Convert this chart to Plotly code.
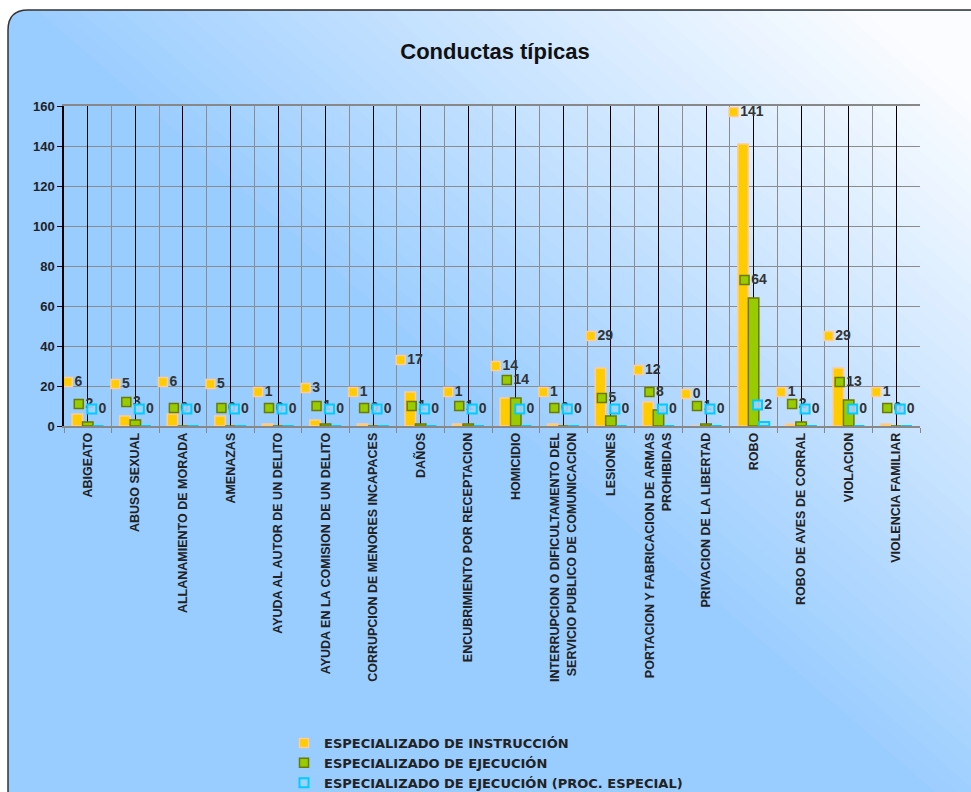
import plotly.graph_objects as go

categories = [
    "ABIGEATO",
    "ABUSO SEXUAL",
    "ALLANAMIENTO DE MORADA",
    "AMENAZAS",
    "AYUDA AL AUTOR DE UN DELITO",
    "AYUDA EN LA COMISION DE UN DELITO",
    "CORRUPCION DE MENORES INCAPACES",
    "DAÑOS",
    "ENCUBRIMIENTO POR RECEPTACION",
    "HOMICIDIO",
    "INTERRUPCION O DIFICULTAMENTO DEL<br>SERVICIO PUBLICO DE COMUNICACION",
    "LESIONES",
    "PORTACION Y FABRICACION DE ARMAS<br>PROHIBIDAS",
    "PRIVACION DE LA LIBERTAD",
    "ROBO",
    "ROBO DE AVES DE CORRAL",
    "VIOLACION",
    "VIOLENCIA FAMILIAR",
]
instruccion = [6, 5, 6, 5, 1, 3, 1, 17, 1, 14, 1, 29, 12, 0, 141, 1, 29, 1]
ejecucion = [2, 3, 0, 0, 0, 1, 0, 1, 1, 14, 0, 5, 8, 1, 64, 2, 13, 0]
proc_especial = [0, 0, 0, 0, 0, 0, 0, 0, 0, 0, 0, 0, 0, 0, 2, 0, 0, 0]
series_names = [
    "ESPECIALIZADO DE INSTRUCCIÓN",
    "ESPECIALIZADO DE EJECUCIÓN",
    "ESPECIALIZADO DE EJECUCIÓN (PROC. ESPECIAL)",
]
y_ticks = [0, 20, 40, 60, 80, 100, 120, 140, 160]
title_text = "Conductas típicas"

# ---------------- styling ----------------
W, H = 971, 792
L, R, T, B = 64, 51, 106, 366
PW, PH = W - L - R, H - T - B
NCAT = len(categories)
CW = PW / NCAT
FONT = "Liberation Sans, Arial, sans-serif"
WIDE = "DejaVu Sans, Verdana, sans-serif"

fills = ["#FFCC00", "#99CC00", "rgba(160,210,255,0.9)"]
lines = ["#FFCC99", "#6B7A00", "#00CCFF"]
lwidths = [1.5, 1.5, 2]
label_dx = [-20, -9, 4]        # label key offset from category centre (px)
label_dy = [16, 9, 8.5]        # label offset above value (axis units)


def px(x):
    return (x - L) / PW


def py(y):
    return (H - B - y) / PH


shapes = []
r = 20
x0, y0, x1, y1 = 8, 10, 1010, 810
frame_path = (
    f"M {px(x0)},{py(y1 - r)} L {px(x0)},{py(y0 + r)} "
    f"Q {px(x0)},{py(y0)} {px(x0 + r)},{py(y0)} "
    f"L {px(x1)},{py(y0)} L {px(x1)},{py(y1)} L {px(x0 + r)},{py(y1)} "
    f"Q {px(x0)},{py(y1)} {px(x0)},{py(y1 - r)} Z"
)
shapes.append(dict(type="path", xref="paper", yref="paper", path=frame_path,
                   fillcolor="#99CCFF", line=dict(width=0), layer="below"))

# diagonal gradient bands (background decoration)
c0 = (153, 204, 255)
c1 = (250, 252, 255)
n_b = 40
ta = 0.03
step = (1.0 - ta) / n_b
ytop, ybot = 11, 809
for i in range(n_b + 1):
    a = ta + i * step
    b = a + step + 0.004 if i < n_b else 3.0
    tm = min(1.0, a + step / 2)
    col = tuple(round(c0[k] + (c1[k] - c0[k]) * tm) for k in range(3))
    pts = [
        (850 * (a + ytop / 740), ytop),
        (850 * (b + ytop / 740), ytop),
        (850 * (b + ybot / 740), ybot),
        (850 * (a + ybot / 740), ybot),
    ]
    p = "M " + " L ".join(f"{px(xx)},{py(yy)}" for xx, yy in pts) + " Z"
    shapes.append(dict(type="path", xref="paper", yref="paper", path=p,
                       fillcolor=f"rgb{col}", line=dict(width=0), layer="below"))

shapes.append(dict(type="path", xref="paper", yref="paper", path=frame_path,
                   fillcolor="rgba(0,0,0,0)", line=dict(color="#333333", width=1.5),
                   layer="below"))

fig = go.Figure()
data = [instruccion, ejecucion, proc_especial]

# bars
for i, (name, vals) in enumerate(zip(series_names, data)):
    fig.add_trace(go.Bar(
        name=name, x=categories, y=vals, offsetgroup=str(i),
        marker=dict(color=fills[i], line=dict(color=lines[i], width=lwidths[i])),
        xaxis="x", yaxis="y", showlegend=False, hoverinfo="x+y",
    ))

# legend keys (hold the centre grid axis)
for i, name in enumerate(series_names):
    fig.add_trace(go.Scatter(
        name=name, x=categories, y=[None] * NCAT, mode="markers",
        marker=dict(symbol="square", size=9, color=fills[i],
                    line=dict(color=lines[i], width=lwidths[i])),
        xaxis="x2", yaxis="y", showlegend=True, hoverinfo="skip",
    ))

# data labels with legend key
for i, (name, vals) in enumerate(zip(series_names, data)):
    fig.add_trace(go.Scatter(
        x=categories, y=vals, mode="markers+text",
        text=[str(v) for v in vals], textposition="middle right",
        textfont=dict(family=FONT, size=14, color="#333333", weight="bold"),
        marker=dict(symbol="square", size=9, color=fills[i],
                    line=dict(color=lines[i], width=lwidths[i])),
        xaxis=f"x{i + 3}", yaxis=f"y{i + 3}", showlegend=False,
        cliponaxis=False, hoverinfo="skip",
    ))

base_cat = dict(type="category", categoryorder="array", categoryarray=categories,
                zeroline=False, fixedrange=True, automargin=False)

layout = dict(
    width=W, height=H,
    margin=dict(l=L, r=R, t=T, b=B, pad=0, autoexpand=False),
    paper_bgcolor="white",
    plot_bgcolor="rgba(0,0,0,0)",
    barmode="group", bargap=0.34, bargroupgap=0,
    shapes=shapes,
    title=dict(text=title_text, x=495 / W, xanchor="center", y=1 - 51 / H,
               yanchor="middle", xref="container", yref="container",
               font=dict(family=FONT, size=22, color="#111111", weight="bold")),
    font=dict(family=FONT, color="#222222"),
    xaxis=dict(
        **base_cat, range=[-0.5, NCAT - 0.5],
        tickson="boundaries", ticks="outside", ticklen=5, tickcolor="#888888",
        showgrid=True, gridcolor="#8C8C8C", gridwidth=1,
        showline=True, linecolor="#888888", linewidth=1.5, mirror=True,
        tickangle=-90,
        tickfont=dict(family=FONT, size=12.5, color="#222222", weight="bold"),
    ),
    xaxis2=dict(
        **base_cat, range=[-0.5, NCAT - 0.5], overlaying="x", side="bottom",
        showgrid=True, gridcolor="#000000", gridwidth=1,
        showticklabels=False, ticks="", showline=False,
    ),
    yaxis=dict(
        range=[0, 160], tickvals=y_ticks, ticks="outside", ticklen=5,
        tickcolor="#000000", showgrid=True, gridcolor="#8C8C8C", gridwidth=1,
        showline=True, linecolor="#000000", linewidth=1.5,
        tickfont=dict(family=FONT, size=13, color="#222222", weight="bold"),
        zeroline=False, fixedrange=True, automargin=False,
    ),
    legend=dict(
        x=px(284), xanchor="left", y=py(728), yanchor="top",
        bgcolor="rgba(0,0,0,0)", borderwidth=0,
        font=dict(family=WIDE, size=13, color="#222222", weight="bold"),
        tracegroupgap=0, itemclick=False, itemdoubleclick=False,
    ),
    showlegend=True,
)
for i in range(3):
    sh = -label_dx[i] / CW
    layout[f"xaxis{i + 3}"] = dict(
        **base_cat, range=[-0.5 + sh, NCAT - 0.5 + sh], overlaying="x",
        visible=False,
    )
    layout[f"yaxis{i + 3}"] = dict(
        range=[-label_dy[i], 160 - label_dy[i]], overlaying="y", visible=False,
        fixedrange=True, automargin=False,
    )
fig.update_layout(**layout)

fig.write_html(
    "out.html",
    config={"displayModeBar": False},
    post_script="document.body.style.margin='0';document.body.style.overflow='hidden';",
)
